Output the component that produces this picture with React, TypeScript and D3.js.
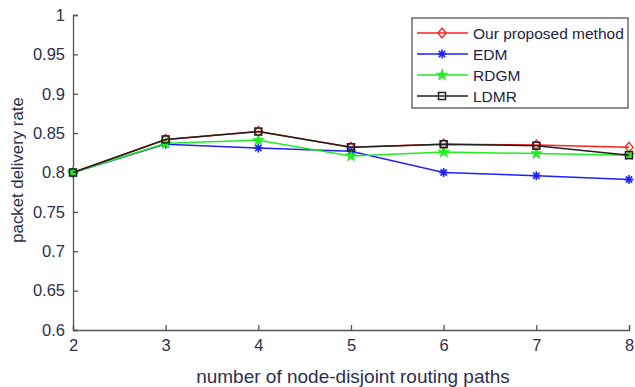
import React, { useEffect, useRef } from 'react';
import * as d3 from 'd3';

const paths = [2, 3, 4, 5, 6, 7, 8];
const yTicks = [0.6, 0.65, 0.7, 0.75, 0.8, 0.85, 0.9, 0.95, 1];

const proposed = [0.8, 0.842, 0.852, 0.832, 0.836, 0.835, 0.832];
const edm = [0.8, 0.836, 0.831, 0.827, 0.8, 0.796, 0.791];
const rdgm = [0.8, 0.837, 0.841, 0.821, 0.826, 0.824, 0.822];
const ldmr = [0.8, 0.842, 0.852, 0.832, 0.836, 0.834, 0.822];

const seriesNames = ['Our proposed method', 'EDM', 'RDGM', 'LDMR'];
const seriesColors = ['#ff2020', '#2020ff', '#20ee20', '#202020'];
const seriesMarkers = ['diamond', 'asterisk', 'star', 'square'];

const W = 635;
const H = 387;
const margin = { left: 73, right: 6, top: 15, bottom: 57 };

const drawMarker = (g, type, color, x, y) => {
  if (type === 'diamond') {
    g.append('path')
      .attr('d', `M${x},${y - 5}L${x + 4},${y}L${x},${y + 5}L${x - 4},${y}Z`)
      .attr('fill', 'none')
      .attr('stroke', color)
      .attr('stroke-width', 1.3);
  } else if (type === 'square') {
    g.append('rect')
      .attr('x', x - 3.5)
      .attr('y', y - 3.5)
      .attr('width', 7)
      .attr('height', 7)
      .attr('fill', 'none')
      .attr('stroke', color)
      .attr('stroke-width', 1.5);
  } else if (type === 'star') {
    g.append('path')
      .attr('d', d3.symbol(d3.symbolStar, 40)())
      .attr('transform', `translate(${x},${y})`)
      .attr('fill', color)
      .attr('stroke', color)
      .attr('stroke-width', 0.8);
  } else {
    const r = 4.5;
    let d = '';
    for (let i = 0; i < 4; i++) {
      const a = (i * Math.PI) / 4;
      d += `M${x - r * Math.cos(a)},${y - r * Math.sin(a)}L${x + r * Math.cos(a)},${y + r * Math.sin(a)}`;
    }
    g.append('path').attr('d', d).attr('stroke', color).attr('stroke-width', 1.6);
  }
};

const App = () => {
  const svgRef = useRef(null);

  useEffect(() => {
    const svg = d3.select(svgRef.current);
    svg.selectAll('*').remove();

    const x = d3.scaleLinear().domain([2, 8]).range([margin.left, W - margin.right]);
    const y = d3.scaleLinear().domain([0.6, 1]).range([H - margin.bottom, margin.top]);
    const axisColor = '#555';
    const textColor = '#2e2e4e';
    const font = 'Liberation Sans, Arial, sans-serif';

    svg.append('rect').attr('width', W).attr('height', H).attr('fill', '#fff');

    // Y axis, ticks pointing inward
    const yAxis = d3
      .axisLeft(y)
      .tickValues(yTicks)
      .tickSize(-5)
      .tickPadding(8)
      .tickFormat((v) => String(+(+v).toFixed(2)));
    const yg = svg.append('g').attr('transform', `translate(${margin.left},0)`).call(yAxis);
    yg.select('.domain').attr('stroke', axisColor).attr('stroke-width', 1.3);
    yg.selectAll('line').attr('stroke', axisColor).attr('stroke-width', 1.3);
    yg.selectAll('text').attr('fill', textColor).attr('font-size', 16.5).attr('font-family', font);

    // X axis
    const xAxis = d3.axisBottom(x).tickValues(paths).tickSize(-5).tickPadding(9).tickFormat(d3.format('d'));
    const xg = svg.append('g').attr('transform', `translate(0,${H - margin.bottom})`).call(xAxis);
    xg.select('.domain').attr('stroke', axisColor).attr('stroke-width', 1.3);
    xg.selectAll('line').attr('stroke', axisColor).attr('stroke-width', 1.3);
    xg.selectAll('text').attr('fill', textColor).attr('font-size', 16.5).attr('font-family', font);

    // Axis titles
    svg.append('text')
      .attr('x', 353)
      .attr('y', H - 4)
      .attr('text-anchor', 'middle')
      .attr('fill', textColor)
      .attr('font-size', 19)
      .attr('font-family', font)
      .text('number of node-disjoint routing paths');
    svg.append('text')
      .attr('transform', `translate(23,170) rotate(-90)`)
      .attr('text-anchor', 'middle')
      .attr('fill', textColor)
      .attr('font-size', 16.8)
      .attr('font-family', font)
      .text('packet delivery rate');

    // Lines
    const allSeries = [proposed, edm, rdgm, ldmr];
    const line = d3
      .line()
      .x((d, i) => x(paths[i]))
      .y((d) => y(d));
    allSeries.forEach((s, k) => {
      const g = svg.append('g');
      g.append('path')
        .attr('d', line(s))
        .attr('fill', 'none')
        .attr('stroke', seriesColors[k])
        .attr('stroke-width', 1.5);
      s.forEach((v, i) => drawMarker(g, seriesMarkers[k], seriesColors[k], x(paths[i]), y(v)));
    });

    // Legend
    const lg = svg.append('g').attr('transform', 'translate(412,18)');
    lg.append('rect')
      .attr('width', 216)
      .attr('height', 90)
      .attr('fill', '#fff')
      .attr('stroke', '#555')
      .attr('stroke-width', 1.3);
    seriesNames.forEach((name, k) => {
      const cy = 15 + k * 21;
      lg.append('line')
        .attr('x1', 5)
        .attr('x2', 56)
        .attr('y1', cy)
        .attr('y2', cy)
        .attr('stroke', seriesColors[k])
        .attr('stroke-width', 1.5);
      drawMarker(lg, seriesMarkers[k], seriesColors[k], 30, cy);
      lg.append('text')
        .attr('x', 61)
        .attr('y', cy + 5.5)
        .attr('fill', '#1e1e3e')
        .attr('font-size', 15.5)
        .attr('font-family', font)
        .text(name);
    });
  }, []);

  return (
    <svg
      ref={svgRef}
      width={W}
      height={H}
      style={{ position: 'absolute', left: 0, top: 0 }}
    />
  );
};

export default App;
